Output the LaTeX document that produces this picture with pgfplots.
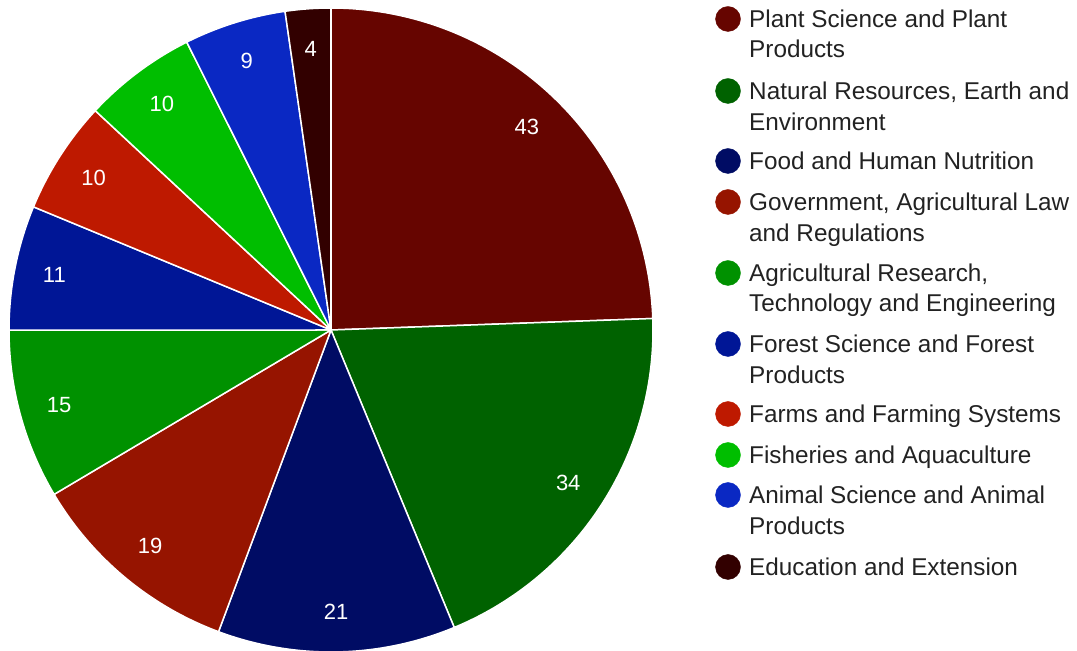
\documentclass[border=0pt]{standalone}
\usepackage{pgfplots}
\pgfplotsset{compat=1.18}
\usepackage{pgfplotstable}
\usepackage{fontspec}
\setmainfont{Liberation Sans}
\definecolor{c1}{RGB}{102,5,0}
\definecolor{c2}{RGB}{0,98,0}
\definecolor{c3}{RGB}{0,12,100}
\definecolor{c4}{RGB}{150,20,0}
\definecolor{c5}{RGB}{0,145,0}
\definecolor{c6}{RGB}{0,22,150}
\definecolor{c7}{RGB}{190,25,0}
\definecolor{c8}{RGB}{0,190,0}
\definecolor{c9}{RGB}{10,40,195}
\definecolor{c10}{RGB}{50,0,0}
\definecolor{legtext}{RGB}{34,34,34}
\tikzset{pielabel/.style={text=white,font=\fontsize{22}{26}\selectfont},
  legtxt/.style={anchor=base west,text=legtext,inner sep=0pt,font=\fontsize{24.3}{30}\selectfont}}
\pgfplotstableread{
value color
43 c1
34 c2
21 c3
19 c4
15 c5
11 c6
10 c7
10 c8
9 c9
4 c10
}\piedata
\newcommand{\legmark}[2]{\addplot[only marks, mark=*, mark size=12.5pt, color=#2] coordinates {(728,#1)};}
\begin{document}
\begin{tikzpicture}
\useasboundingbox (0,0) rectangle (1077pt,651pt);
\begin{axis}[at={(0,0)}, anchor=south west, width=1077pt, height=651pt, scale only axis, xmin=0, xmax=1077, ymin=0, ymax=651, hide axis, clip=true]
\def\start{90}
\pgfplotsforeachungrouped \i in {0,...,9}{%
 \pgfplotstablegetelem{\i}{value}\of\piedata \let\val\pgfplotsretval
 \pgfplotstablegetelem{\i}{color}\of\piedata \let\col\pgfplotsretval
 \pgfmathsetmacro{\stop}{\start-\val/176*360}%
 \pgfmathsetmacro{\mid}{(\start+\stop)/2}%
 \pgfmathsetmacro{\lx}{331+282*cos(\mid)}%
 \pgfmathsetmacro{\ly}{321+282*sin(\mid)}%
 \edef\temp{\noexpand\addplot[fill=\col, draw=white, line width=1.5pt, line join=round, domain=\stop:\start, samples=90] ({331+322*cos(x)},{321+322*sin(x)}) -- (axis cs:331,321) -- cycle;
  \noexpand\node[pielabel] at (axis cs:\lx,\ly) {\val};}%
 \temp
 \global\let\start\stop
}
\legmark{632}{c1}
\legmark{560}{c2}
\legmark{490}{c3}
\legmark{449}{c4}
\legmark{378}{c5}
\legmark{307}{c6}
\legmark{237}{c7}
\legmark{196}{c8}
\legmark{156}{c9}
\legmark{84}{c10}
\node[legtxt] at (axis cs:749,623.5) {Plant Science and Plant};
\node[legtxt] at (axis cs:749,593) {Products};
\node[legtxt] at (axis cs:749,551.5) {Natural Resources, Earth and};
\node[legtxt] at (axis cs:749,520.5) {Environment};
\node[legtxt] at (axis cs:749,481.5) {Food and Human Nutrition};
\node[legtxt] at (axis cs:749,440.5) {Government, Agricultural Law};
\node[legtxt] at (axis cs:749,409.5) {and Regulations};
\node[legtxt] at (axis cs:749,369.5) {Agricultural Research,};
\node[legtxt] at (axis cs:749,339) {Technology and Engineering};
\node[legtxt] at (axis cs:749,298.5) {Forest Science and Forest};
\node[legtxt] at (axis cs:749,267.5) {Products};
\node[legtxt] at (axis cs:749,228.5) {Farms and Farming Systems};
\node[legtxt] at (axis cs:749,187.5) {Fisheries and Aquaculture};
\node[legtxt] at (axis cs:749,147.5) {Animal Science and Animal};
\node[legtxt] at (axis cs:749,116.5) {Products};
\node[legtxt] at (axis cs:749,75.5) {Education and Extension};
\end{axis}
\end{tikzpicture}
\end{document}
